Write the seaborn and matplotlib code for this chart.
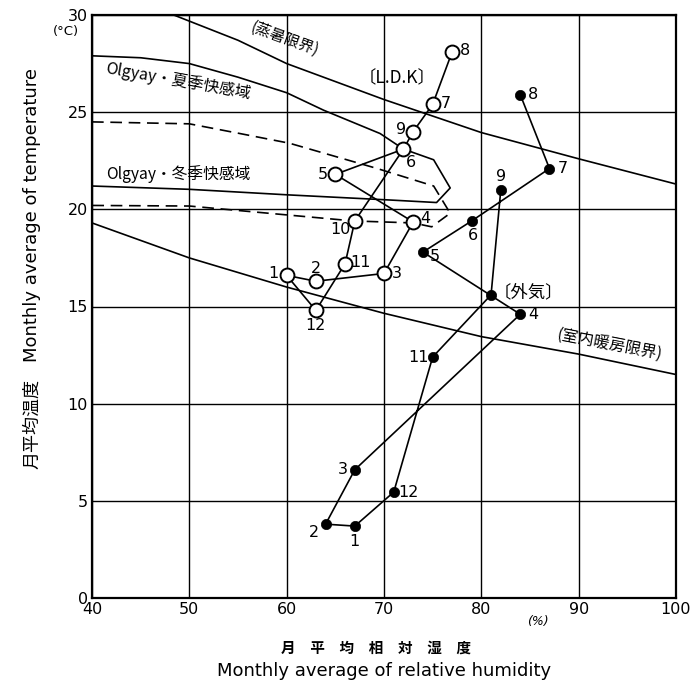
import numpy as np
import pandas as pd
import matplotlib
matplotlib.use("Agg")
import matplotlib.pyplot as plt
import seaborn as sns

# ---------------- data ----------------
months = [1, 2, 3, 4, 5, 6, 7, 8, 9, 10, 11, 12]

# L.D.K (indoor) monthly averages
ldk_rh = [60, 63, 70, 73, 65, 72, 75, 77, 73, 67, 66, 63]
ldk_t = [16.6, 16.3, 16.7, 19.35, 21.8, 23.1, 25.4, 28.1, 24.0, 19.4, 17.2, 14.8]

# outdoor (外気) monthly averages
out_rh = [67, 64, 67, 84, 74, 79, 87, 84, 82, 81, 75, 71]
out_t = [3.7, 3.8, 6.6, 14.6, 17.8, 19.4, 22.1, 25.9, 21.0, 15.6, 12.4, 5.45]

# sultry limit (蒸暑限界)
sultry_rh = [48.4, 55, 60, 70, 80, 90, 100]
sultry_t = [30.0, 28.7, 27.5, 25.65, 23.95, 22.6, 21.3]

# indoor heating limit (室内暖房限界)
heat_rh = [40, 50, 60, 70, 80, 90, 100]
heat_t = [19.3, 17.5, 16.0, 14.65, 13.45, 12.55, 11.5]

# Olgyay summer comfort zone outline (solid)
summer_rh = [40, 45, 50, 55, 60, 63.8, 69.6, 72.0, 75.1, 76.8, 75.4, 70.6, 60.3, 50, 40]
summer_t = [27.9, 27.8, 27.5, 26.8, 26.0, 25.1, 23.9, 23.1, 22.55, 21.1, 20.35, 20.48, 20.74, 21.03, 21.2]

# Olgyay winter comfort zone outline (dashed)
winter_rh = [40, 50, 55.2, 60.3, 69.3, 75.1, 76.8, 74.9, 73, 67, 65.8, 60.3, 50, 40]
winter_t = [24.5, 24.4, 23.9, 23.4, 22.1, 21.2, 19.8, 19.1, 19.3, 19.4, 19.45, 19.7, 20.17, 20.2]

x_ticks = [40, 50, 60, 70, 80, 90, 100]
y_ticks = [0, 5, 10, 15, 20, 25, 30]

# ---------------- style ----------------
sns.set_theme(style="white")
plt.rcParams["font.family"] = ["DejaVu Sans", "Noto Sans CJK JP"]
for k in ["text.color", "axes.labelcolor", "xtick.color", "ytick.color", "axes.edgecolor"]:
    plt.rcParams[k] = "black"
JP = ["Noto Sans CJK JP", "DejaVu Sans"]

fig = plt.figure(figsize=(6.92, 6.85), dpi=100)
ax = fig.add_axes([92 / 692, 1 - 598 / 685, (676 - 92) / 692, (598 - 15) / 685])

ax.set_xlim(40, 100)
ax.set_ylim(0, 30)
ax.set_xticks(x_ticks)
ax.set_yticks(y_ticks)
ax.grid(True, color="black", lw=1.0)
ax.set_axisbelow(True)
for s in ax.spines.values():
    s.set_color("black")
    s.set_linewidth(1.6)
ax.tick_params(length=0, labelsize=11.5, colors="black", pad=3)
ax.set_xlabel("")
ax.set_ylabel("")

lw = 1.2
# reference curves
sns.lineplot(x=sultry_rh, y=sultry_t, sort=False, estimator=None, color="black", lw=lw, ax=ax)
sns.lineplot(x=heat_rh, y=heat_t, sort=False, estimator=None, color="black", lw=lw, ax=ax)
sns.lineplot(x=summer_rh, y=summer_t, sort=False, estimator=None, color="black", lw=lw, ax=ax)
sns.lineplot(x=winter_rh, y=winter_t, sort=False, estimator=None, color="black", lw=lw,
             ax=ax, linestyle=(0, (7, 4)))

# LDK loop, drawn as in the original (Jul-Aug-Sep strokes overlap)
ldk_path_a = [0, 1, 2, 3, 4, 5, 8, 6, 7]
ldk_path_b = [5, 9, 10, 11, 0]
for path in (ldk_path_a, ldk_path_b):
    sns.lineplot(x=[ldk_rh[i] for i in path], y=[ldk_t[i] for i in path],
                 sort=False, estimator=None, color="black", lw=lw, ax=ax)
# outdoor path (no segment between Aug and Sep)
out_order = [8, 9, 10, 11, 0, 1, 2, 3, 4, 5, 6, 7]
sns.lineplot(x=[out_rh[i] for i in out_order], y=[out_t[i] for i in out_order],
             sort=False, estimator=None, color="black", lw=lw, ax=ax)

sns.scatterplot(x=ldk_rh, y=ldk_t, marker="o", s=100, facecolor="white",
                edgecolor="black", linewidth=1.4, zorder=5, ax=ax)
sns.scatterplot(x=out_rh, y=out_t, marker="o", s=55, color="black",
                edgecolor="black", linewidth=0.5, zorder=5, ax=ax)

# month labels (pixel offsets)
ldk_off = [(-13, 2), (0, 13), (13, 0), (12, 3), (-13, 0), (7, -13), (13, 1), (13, 1),
           (-12, 2), (-14, -9), (15, 1), (0, -15)]
out_off = [(0, -15), (-12, -8), (-12, 0), (13, 0), (12, -4), (1, -15), (13, 0), (13, 0),
           (0, 13), None, (-14, 0), (15, 0)]
for m, x, y, o in zip(months, ldk_rh, ldk_t, ldk_off):
    ax.annotate(str(m), (x, y), xytext=o, textcoords="offset pixels",
                ha="center", va="center", fontsize=11.5, zorder=6)
for m, x, y, o in zip(months, out_rh, out_t, out_off):
    if o is None:
        continue
    ax.annotate(str(m), (x, y), xytext=o, textcoords="offset pixels",
                ha="center", va="center", fontsize=11.5, zorder=6)

# curve annotations
ax.text(59.8, 28.75, "(蒸暑限界)", family=JP, fontsize=11, rotation=-20,
        ha="center", va="center")
ax.text(48.8, 26.6, "Olgyay・夏季快感域", family=JP, fontsize=11.5, rotation=-10,
        ha="center", va="center")
ax.text(41.5, 21.8, "Olgyay・冬季快感域", family=JP, fontsize=11.3,
        ha="left", va="center")
ax.text(71.3, 26.75, "〔L.D.K〕", family=JP, fontsize=12.5, ha="center", va="center")
ax.text(84.8, 15.75, "〔外気〕", family=JP, fontsize=12.5, ha="center", va="center")
ax.text(93.2, 13.05, "(室内暖房限界)", family=JP, fontsize=11.5, rotation=-11,
        ha="center", va="center")

# unit labels
fig.text(66 / 692, 1 - 31 / 685, "(°C)", fontsize=9.5, ha="center", va="center")
fig.text(538 / 692, 1 - 621 / 685, "(%)", fontsize=9, ha="center", va="center", style="italic")

# axis titles
fig.text(32 / 692, 1 - 215 / 685, "Monthly average of temperature",
         fontsize=13, rotation=90, ha="center", va="center")
fig.text(32 / 692, 1 - 424 / 685, "月平均温度",
         family=JP, fontsize=13, rotation=90, ha="center", va="center")
fig.text(376 / 692, 1 - 648 / 685, "月　平　均　相　対　湿　度", family=JP, fontsize=10.5,
         ha="center", va="center", weight="bold")
fig.text(384 / 692, 1 - 671 / 685, "Monthly average of relative humidity",
         fontsize=13, ha="center", va="center")

fig.savefig("out.png", dpi=100)
